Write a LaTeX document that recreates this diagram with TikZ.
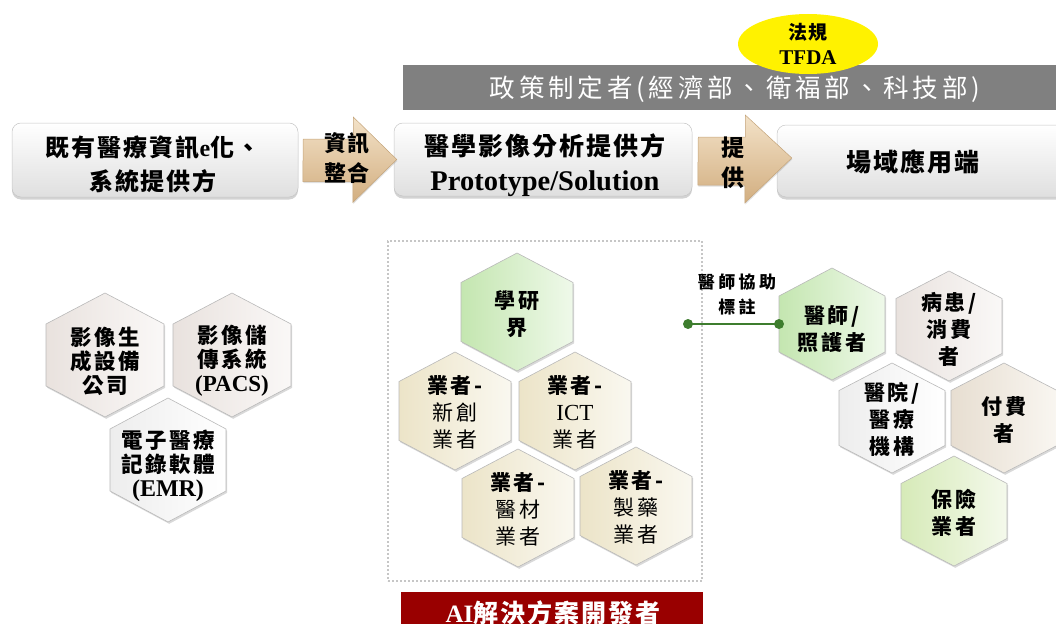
\documentclass[tikz,border=0pt]{standalone}
\usepackage{fontspec}
\setmainfont{Liberation Serif}
\newfontfamily\cjk{Noto Sans CJK TC}[LetterSpace=8]
\newfontfamily\cjkh{Noto Sans CJK TC}[LetterSpace=12]
\newfontfamily\cjkw{Noto Sans CJK TC}[LetterSpace=15]
\newfontfamily\cjkl{Noto Sans CJK TC}[LetterSpace=20]
\usetikzlibrary{shadows,shapes.geometric,calc}
\definecolor{barg}{HTML}{808080}
\definecolor{ared}{HTML}{990000}
\definecolor{lgreen}{HTML}{3E7D2E}
\definecolor{arrT}{HTML}{F3E2C8}
\definecolor{arrB}{HTML}{D2AE80}
\definecolor{arrD}{HTML}{C4A47A}
\definecolor{gL}{HTML}{C4E6B0}
\definecolor{gR}{HTML}{EFF9EA}
\definecolor{bL}{HTML}{ECE4C8}
\definecolor{bR}{HTML}{FAF8F0}
\definecolor{pL}{HTML}{E9E2DE}
\definecolor{pR}{HTML}{FAF8F7}
\definecolor{wL}{HTML}{EDEDED}
\definecolor{wR}{HTML}{FFFFFF}
\definecolor{tL}{HTML}{E7DED1}
\definecolor{tR}{HTML}{F9F6F1}
\definecolor{yL}{HTML}{D6EAB8}
\definecolor{yR}{HTML}{F4F9EB}
% #1 name, #2 x, #3 y, #4 half width, #5 half height, #6 left colour, #7 right colour, #8 text, #9 text offset
\newcommand{\hexa}[9]{%
  \begin{scope}[shift={(#2,#3)}]
    \path[hexb, left color=#6, right color=#7] (0,-#5) -- (#4,-#5/2) -- (#4,#5/2) -- (0,#5) -- (-#4,#5/2) -- (-#4,-#5/2) -- cycle;
    \coordinate (#1-w) at (-#4,0);
    \node[hext] (#1) at (0,#9) {#8};
  \end{scope}}
\begin{document}
\begin{tikzpicture}[x=1pt,y=-1pt,
  box/.style={rounded corners=9pt, draw=gray!45, line width=0.5pt, top color=white, bottom color=gray!25,
    drop shadow={shadow xshift=0pt, shadow yshift=-2.5pt, opacity=0.35}, inner sep=0pt},
  btext/.style={align=center, inner sep=0pt},
  blockarrow/.style={top color=arrT, bottom color=arrB, draw=arrD, line width=0.5pt,
    drop shadow={shadow xshift=0.5pt, shadow yshift=-1.5pt, opacity=0.25}},
  hexb/.style={draw=gray!55, line width=0.6pt, drop shadow={shadow xshift=1.2pt, shadow yshift=-1.8pt, opacity=0.3}},
  hext/.style={align=center, inner sep=0pt, font=\cjkh\bfseries\fontsize{21}{27}\selectfont},
  lefthex/.style={hext/.style={align=center, inner sep=0pt, font=\cjkh\bfseries\fontsize{21.5}{24}\selectfont}},
  arrtext/.style={align=center, inner sep=0pt, font=\cjk\bfseries\fontsize{22}{29.5}\selectfont}]
\useasboundingbox (0,0) rectangle (1056,623);

% policy bar
\node[fill=barg, anchor=north west, minimum width=660pt, minimum height=45pt, inner sep=0pt] (bar) at (403,65) {};
\node[text=white, inner sep=0pt, font=\cjkw\fontsize{25.5}{28}\selectfont] (bart) at (735,89) {政策制定者(經濟部、衛福部、科技部)};
\node[ellipse, fill=yellow, minimum width=140pt, minimum height=60pt, inner sep=0pt, align=center,
  font=\bfseries\fontsize{21}{25}\selectfont] (tfda) at (808,44) {{\cjk\fontsize{19}{25}\selectfont 法規}\\TFDA};

% main boxes
\node[box, minimum width=286pt, minimum height=74pt] (b1) at (155,160) {};
\node[btext, font=\cjk\bfseries\fontsize{24}{34}\selectfont] (b1t) at (153,164) {既有醫療資訊{\rmfamily e}化、\\系統提供方};
\node[box, minimum width=298pt, minimum height=73pt] (b2) at (543,159.5) {};
\node[btext, font=\cjk\bfseries\fontsize{25}{35}\selectfont] (b2t) at (545,165) {醫學影像分析提供方\\{\rmfamily\fontsize{28.5}{35}\selectfont Prototype/Solution}};
\node[box, minimum width=290pt, minimum height=72pt] (b3) at (922,161) {};
\node[btext, font=\cjk\bfseries\fontsize{25}{30}\selectfont] (b3t) at (913,162) {場域應用端};

% block arrows
\path[blockarrow] ($(b1.east)+(5,-21)$) -- ++(50,0) -- ++(0,-22) -- ($(b2.west)+(3,0)$) -- ++(-44,43) -- ++(0,-21) -- ++(-50,0) -- cycle;
\node[arrtext] (a1t) at (347,158) {資訊\\整合};
\path[blockarrow] ($(b2.east)+(6,-22.5)$) -- ++(47,0) -- ++(0,-22) -- ($(b3.west)+(15,-3)$) -- ++(-47,45) -- ++(0,-18) -- ++(-47,0) -- cycle;
\node[arrtext, font=\cjk\bfseries\fontsize{23}{30}\selectfont] (a2t) at (733,163) {提\\供};

% left group
\begin{scope}[lefthex]
\hexa{h1}{105}{355}{59}{62}{pL}{pR}{影像生\\成設備\\公司}{6}
\hexa{h2}{232}{355}{59}{62}{pL}{pR}{影像儲\\傳系統\\{\rmfamily\fontsize{23}{24}\selectfont (PACS)}}{6}
\hexa{h3}{168}{460}{58}{62}{wL}{wR}{電子醫療\\記錄軟體\\{\rmfamily\fontsize{24}{24}\selectfont (EMR)}}{6}
\end{scope}

% middle group
\node[draw=gray!45, line width=2pt, dash pattern=on 2pt off 2pt, anchor=north west, minimum width=314pt, minimum height=340pt, inner sep=0pt] (grp) at (387,240) {};
\hexa{m1}{517}{312}{56}{59}{gL}{gR}{學研\\界}{2}
\hexa{m2}{455}{411}{56}{59}{bL}{bR}{業者-\\{\mdseries 新創}\\{\mdseries 業者}}{1}
\hexa{m3}{575}{411}{56}{59}{bL}{bR}{業者-\\{\mdseries\rmfamily\fontsize{23}{27}\selectfont ICT}\\{\mdseries 業者}}{1}
\hexa{m4}{518}{508}{56}{59}{bL}{bR}{業者-\\{\mdseries 醫材}\\{\mdseries 業者}}{1}
\hexa{m5}{636}{506}{56}{59}{bL}{bR}{業者-\\{\mdseries 製藥}\\{\mdseries 業者}}{1}
\node[fill=ared, anchor=north west, minimum width=302pt, minimum height=40pt, inner sep=0pt] (ban) at (401,592) {};
\node[text=white, inner sep=0pt, font=\cjk\bfseries\fontsize{25}{30}\selectfont] (bant) at (553,613) {{\rmfamily AI}解決方案開發者};

% right group
\hexa{r1}{832}{324}{53}{56}{gL}{gR}{醫師/\\照護者}{5}
\hexa{r2}{949}{326}{53}{55}{pL}{pR}{病患/\\消費\\者}{3}
\hexa{r3}{892}{418}{53}{55}{wL}{wR}{醫院/\\醫療\\機構}{1}
\hexa{r4}{1004}{418}{53}{55}{tL}{tR}{付費\\者}{2}
\hexa{r5}{954}{511}{53}{55}{yL}{yR}{保險\\業者}{2}

% annotation connector
\coordinate (gl) at (688,324);
\draw[lgreen, line width=2.5pt] (gl) -- (r1-w);
\fill[lgreen] (gl) circle[radius=5pt];
\fill[lgreen] (r1-w) circle[radius=5pt];
\node[align=center, inner sep=0pt, font=\cjkl\bfseries\fontsize{17}{25}\selectfont] (lbl) at (737,295) {醫師協助\\標註};
\end{tikzpicture}
\end{document}
